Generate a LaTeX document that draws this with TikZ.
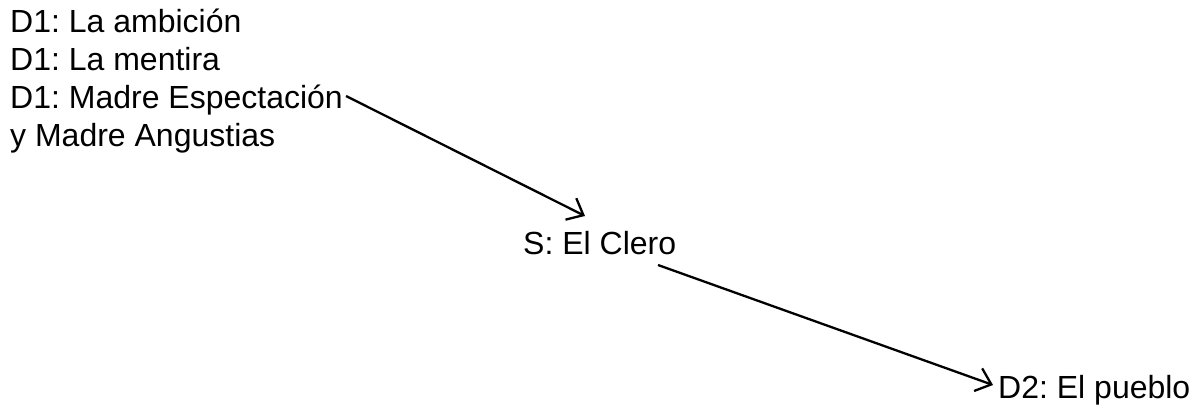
\documentclass[tikz,border=0pt]{standalone}
\usepackage{fontspec}
\setmainfont{Liberation Sans}
\usetikzlibrary{arrows.meta}
\frenchspacing
\begin{document}
\begin{tikzpicture}[x=1pt,y=-1pt,
  lbl/.style={anchor=base west, inner sep=0pt, font=\fontsize{32}{38}\selectfont},
  conn/.style={line width=2.3pt, -{Straight Barb[length=14pt,width=24pt,line width=2.3pt]}}]
\useasboundingbox (0,0) rectangle (1197,409);
\node[lbl] (d1a) at (10,33) {D1: La ambición};
\node[lbl] (d1b) at (10,71) {D1: La mentira};
\node[lbl] (d1c) at (10,109) {D1: Madre Espectación};
\node[lbl] (d1d) at (10,147) {y Madre Angustias};
\node[lbl] (s) at (523,254) {S: El Clero};
\node[lbl] (d2) at (998,398) {D2: El pueblo};
\coordinate (a1) at ([shift={(3,-13)}]d1c.base east);
\coordinate (t1) at ([shift={(62,-38)}]s.base west);
\coordinate (a2) at ([shift={(135,11)}]s.base west);
\coordinate (t2) at ([shift={(-5,-13)}]d2.base west);
\draw[conn] (a1) -- (t1);
\draw[conn] (a2) -- (t2);
\end{tikzpicture}
\end{document}
